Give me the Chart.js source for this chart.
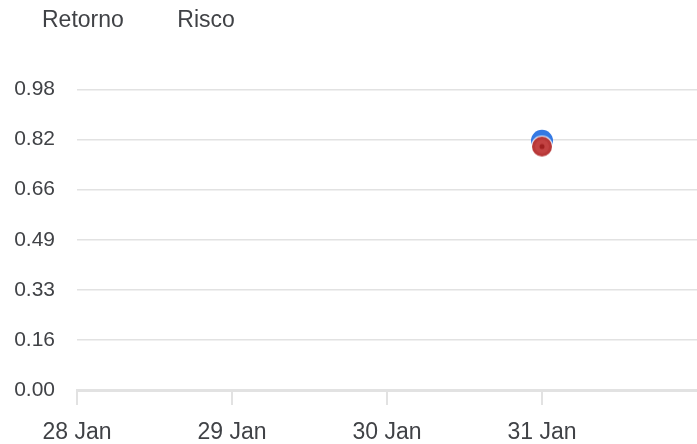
<!DOCTYPE html>
<html>
<head>
<meta charset="utf-8">
<script src="https://cdn.jsdelivr.net/npm/chart.js@4.4.1/dist/chart.umd.min.js"></script>
<style>
  html, body { margin: 0; padding: 0; background: #fff; overflow: hidden; }
  #wrap { width: 697px; height: 444px; position: relative; }
  canvas { display: block; }
</style>
</head>
<body>
<div id="wrap"><canvas id="risk-chart"></canvas></div>
<script>
const categories = ['28 Jan', '29 Jan', '30 Jan', '31 Jan', ''];
const retorno = [null, null, null, 0.813, null];
const risco = [null, null, null, 0.794, null];
const yTickLabels = ['0.00', '0.16', '0.33', '0.49', '0.66', '0.82', '0.98'];
const yMax = 0.98;

const textColor = '#404246';
const gridColor = '#e2e2e2';

// red marker with the small dark centre dot
function riscoMarker() {
  const c = document.createElement('canvas');
  c.width = 24; c.height = 24;
  const ctx = c.getContext('2d');
  ctx.beginPath();
  ctx.arc(12, 12, 11, 0, Math.PI * 2);
  ctx.fillStyle = 'rgba(255,255,255,0.9)';
  ctx.fill();
  ctx.beginPath();
  ctx.arc(12, 12, 10, 0, Math.PI * 2);
  ctx.fillStyle = '#b83838';
  ctx.fill();
  ctx.beginPath();
  ctx.arc(12, 12, 7, 0, Math.PI * 2);
  ctx.fillStyle = '#c24242';
  ctx.fill();
  ctx.beginPath();
  ctx.arc(12, 12, 2.5, 0, Math.PI * 2);
  ctx.fillStyle = '#a02020';
  ctx.fill();
  return c;
}

// extra room under the legend
const legendGap = {
  id: 'legendGap',
  beforeInit(chart) {
    const fit = chart.legend.fit;
    chart.legend.fit = function () {
      fit.bind(chart.legend)();
      this.height += 47;
    };
  }
};

const chartElement = document.getElementById('risk-chart');

const config = {
  type: 'line',
  data: {
    labels: categories,
    datasets: [{
      label: 'Retorno',
      data: retorno,
      showLine: false,
      order: 1,
      backgroundColor: '#3579e3',
      borderColor: '#3579e3',
      pointRadius: 11,
      pointBorderWidth: 0,
      pointHoverRadius: 11
    }, {
      label: 'Risco',
      data: risco,
      showLine: false,
      order: 0,
      backgroundColor: '#b83838',
      borderColor: '#b83838',
      pointStyle: riscoMarker(),
      pointRadius: 12,
      pointHoverRadius: 12
    }]
  },
  options: {
    responsive: true,
    maintainAspectRatio: false,
    animation: false,
    layout: { autoPadding: false, padding: 0 },
    plugins: {
      tooltip: { enabled: false },
      legend: {
        position: 'top',
        align: 'start',
        labels: {
          color: textColor,
          font: { size: 23, family: "'Liberation Sans', Arial, sans-serif" },
          boxWidth: 21,
          padding: 9.5,
          sort: (a, b) => a.datasetIndex - b.datasetIndex,
          generateLabels(chart) {
            return Chart.defaults.plugins.legend.labels.generateLabels(chart).map(item => ({
              ...item,
              text: item.text + '\u2002',
              fillStyle: 'transparent',
              strokeStyle: 'transparent',
              lineWidth: 0
            }));
          }
        }
      }
    },
    scales: {
      x: {
        offset: false,
        afterFit: scale => {
          scale.height = 54;
          scale.paddingLeft = 0;
          scale.paddingRight = 0;
        },
        grid: {
          drawOnChartArea: false,
          drawTicks: true,
          tickLength: 15,
          lineWidth: 2,
          color: ctx => ctx.index === categories.length - 1 ? 'transparent' : gridColor
        },
        border: { display: true, color: gridColor, width: 3 },
        ticks: {
          color: textColor,
          padding: 14,
          maxRotation: 0,
          autoSkip: false,
          font: { size: 23, family: "'Liberation Sans', Arial, sans-serif" }
        }
      },
      y: {
        min: 0,
        max: yMax,
        afterFit: scale => { scale.width = 77; },
        afterBuildTicks: axis => {
          axis.ticks = yTickLabels.map((l, i) => ({ value: yMax * i / (yTickLabels.length - 1) }));
        },
        grid: {
          drawTicks: false,
          color: gridColor,
          lineWidth: 1.5
        },
        border: { display: false },
        ticks: {
          color: textColor,
          padding: 22,
          font: { size: 21, family: "'Liberation Sans', Arial, sans-serif" },
          callback: (v, i) => yTickLabels[i]
        }
      }
    }
  },
  plugins: [legendGap]
};

const chart = new Chart(chartElement, config);
</script>
</body>
</html>
